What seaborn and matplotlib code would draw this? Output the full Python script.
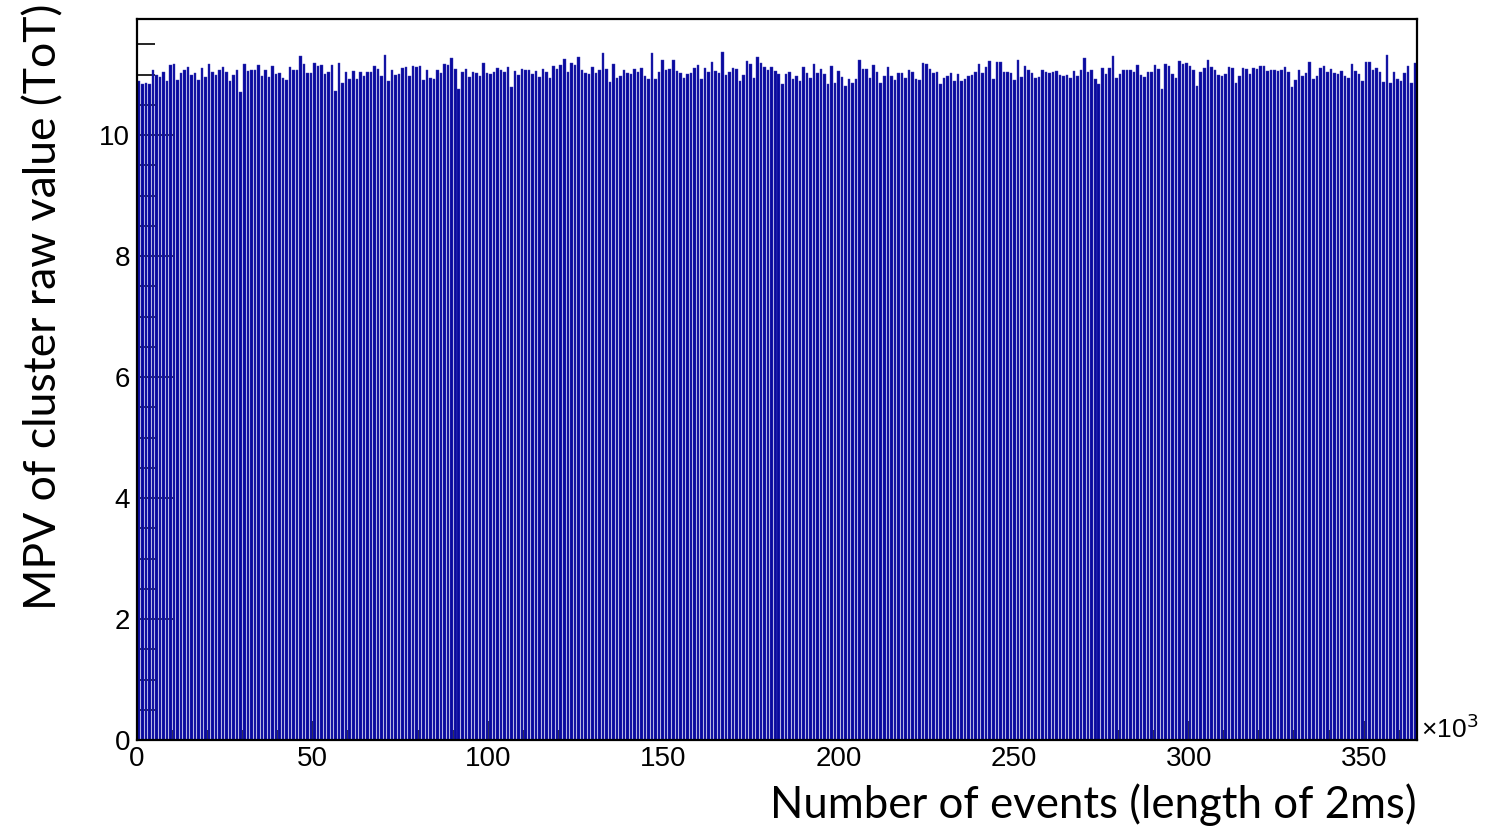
# MPV per bloc d'événements - histogramme style ROOT
import numpy as np
import pandas as pd
import matplotlib
matplotlib.use("Agg")
import matplotlib.pyplot as plt
import seaborn as sns

# MPV (ToT) par bin (bins de ~1k événements)
mpv_1 = [10.89, 10.84, 10.86, 10.84, 11.08, 11.00, 10.96, 11.04, 10.89, 11.16,
         11.18, 10.91, 11.02, 11.08, 11.12, 10.99, 11.02, 10.91, 11.11, 10.96,
         11.18, 11.04, 11.00, 11.08, 11.12, 11.05, 10.89, 10.99, 11.08, 10.71,
         11.17, 11.06, 11.07, 11.08, 11.16, 10.98, 11.07, 10.96, 11.14, 11.01,
         11.02, 10.94, 10.91, 11.12, 11.08, 11.07, 11.31, 11.17, 11.02, 11.02,
         11.19, 11.14, 11.16, 11.01, 11.05, 11.16, 10.73, 11.19, 10.86, 11.05,
         10.93, 11.06, 10.92, 11.04, 10.98, 11.04, 11.05, 11.15, 11.09, 10.97,
         11.32, 10.89, 11.08]
mpv_2 = [11.00, 11.01, 11.11, 11.12, 10.97, 11.14, 11.13, 11.14, 10.91, 11.07,
         10.95, 10.92, 11.07, 11.02, 11.17, 11.16, 11.28, 11.10, 10.77, 11.05,
         11.09, 10.96, 11.05, 11.02, 10.98, 11.19, 11.03, 11.01, 11.05, 11.11,
         11.08, 11.05, 11.12, 10.80, 11.06, 11.00, 11.10, 11.07, 11.08, 11.01,
         11.06, 10.96, 11.10, 11.05, 10.95, 11.14, 11.10, 11.16, 11.26, 11.05,
         11.20, 11.16, 11.30, 11.07, 11.03, 11.01, 11.13, 11.02, 11.07, 11.36,
         11.09, 10.88, 11.17, 10.94, 10.98, 11.07, 11.03, 11.01, 11.10, 11.04,
         11.11, 10.97, 10.92]
mpv_3 = [11.35, 10.92, 11.04, 11.24, 11.07, 11.09, 11.24, 11.06, 11.02, 10.94,
         11.01, 11.02, 11.11, 11.16, 10.92, 11.11, 11.04, 11.21, 11.06, 11.02,
         11.37, 10.99, 11.04, 11.11, 11.09, 10.90, 10.99, 11.23, 11.18, 10.95,
         11.30, 11.19, 11.12, 11.07, 11.12, 11.06, 11.01, 10.84, 11.01, 11.04,
         10.93, 10.97, 10.90, 11.12, 11.02, 10.95, 11.17, 11.02, 11.09, 11.01,
         10.84, 11.14, 10.86, 11.06, 10.96, 10.82, 10.92, 10.86, 10.92, 11.24,
         11.09, 11.09, 10.95, 11.16, 11.04, 10.86, 10.97, 11.13, 10.98, 10.91,
         11.03, 11.03, 10.94]
mpv_4 = [11.08, 11.04, 10.93, 10.91, 11.19, 11.17, 11.09, 11.02, 11.05, 10.85,
         10.95, 10.98, 11.03, 10.89, 11.01, 10.89, 10.92, 10.97, 10.99, 11.04,
         11.17, 11.02, 11.13, 11.22, 10.93, 11.21, 11.21, 11.04, 11.05, 11.02,
         10.91, 11.24, 10.96, 11.15, 11.07, 11.02, 10.94, 10.96, 11.08, 11.05,
         11.03, 11.05, 11.06, 11.00, 10.98, 11.00, 10.95, 11.06, 10.97, 11.07,
         11.28, 11.04, 11.08, 10.93, 10.85, 11.11, 11.01, 11.11, 11.31, 10.95,
         11.01, 11.07, 11.07, 11.08, 11.05, 11.16, 10.99, 10.96, 11.05, 11.05,
         11.16, 11.10, 10.77]
mpv_5 = [11.17, 11.15, 11.01, 10.94, 11.22, 11.18, 11.20, 11.15, 11.07, 10.82,
         11.04, 11.11, 11.24, 11.13, 11.08, 11.00, 10.98, 11.01, 11.12, 11.11,
         10.87, 10.97, 11.11, 11.09, 11.01, 11.11, 11.09, 11.14, 11.15, 11.06,
         11.07, 11.08, 11.06, 11.08, 11.13, 11.05, 10.79, 10.91, 11.08, 10.98,
         11.02, 11.21, 10.92, 10.98, 11.11, 11.15, 11.05, 11.10, 11.03, 11.01,
         11.06, 10.98, 10.95, 11.18, 11.06, 11.01, 10.90, 11.21, 11.21, 11.08,
         11.11, 11.05, 10.88, 11.32, 10.87, 11.04, 10.93, 10.89, 11.03, 11.15,
         10.87, 11.19]
mpv_values = mpv_1 + mpv_2 + mpv_3 + mpv_4 + mpv_5

x_max = 365.0   # en milliers d'événements
y_max = 11.92
x_label = "Number of events (length of 2ms)"
y_label = "MPV of cluster raw value (ToT)"

edges = np.linspace(0, x_max, len(mpv_values) + 1)
df = pd.DataFrame({"evt": 0.5 * (edges[:-1] + edges[1:]), "mpv": mpv_values})

sns.set_style("ticks")
plt.rcParams["font.family"] = ["Liberation Sans", "DejaVu Sans"]
plt.rcParams["text.color"] = "black"
plt.rcParams["xtick.color"] = "black"
plt.rcParams["ytick.color"] = "black"

fig = plt.figure(figsize=(15.09, 8.32), dpi=100)
ax = fig.add_axes([137 / 1509, 1 - 740 / 832, 1280 / 1509, 721 / 832])

sns.histplot(data=df, x="evt", weights="mpv", bins=edges.tolist(), shrink=0.72,
             color="#0a0a9e", alpha=1, edgecolor="#3a3ab8", linewidth=0.3,
             ax=ax)

ax.set_xlim(0, x_max)
ax.set_ylim(0, y_max)
ax.set_xticks(np.arange(0, 351, 50))
ax.set_xticks(np.arange(0, 361, 10), minor=True)
ax.set_yticks(np.arange(0, 11, 2))
ax.set_yticks(np.arange(0, 11.6, 0.5), minor=True)

ax.xaxis.set_tick_params(which="major", direction="in", length=14, width=1.2,
                         labelsize=20, pad=4, labelcolor="black")
ax.xaxis.set_tick_params(which="minor", direction="in", length=7, width=1.2)
ax.yaxis.set_tick_params(which="major", direction="in", length=26, width=1.2,
                         labelsize=20, pad=5, labelcolor="black")
ax.yaxis.set_tick_params(which="minor", direction="in", length=13, width=1.2)
ax.tick_params(top=False, right=False, which="both")

for s in ax.spines.values():
    s.set_visible(True)
    s.set_linewidth(1.6)
    s.set_color("black")

ax.set_xlabel("")
ax.set_ylabel("")
fig.text(1417 / 1509, 1 - 818 / 832, x_label, ha="right", va="baseline",
         fontsize=31.5, color="black", family=["Lato", "DejaVu Sans"])
fig.text(44 / 1509, 1 - 4 / 832, y_label, ha="center", va="top",
         rotation=90, fontsize=32, color="black", family=["Lato", "DejaVu Sans"])
ax.text(1.003, -0.004, "×10$^{3}$", transform=ax.transAxes, ha="left",
        va="bottom", fontsize=19, color="black")

fig.savefig("out.png", dpi=100)
